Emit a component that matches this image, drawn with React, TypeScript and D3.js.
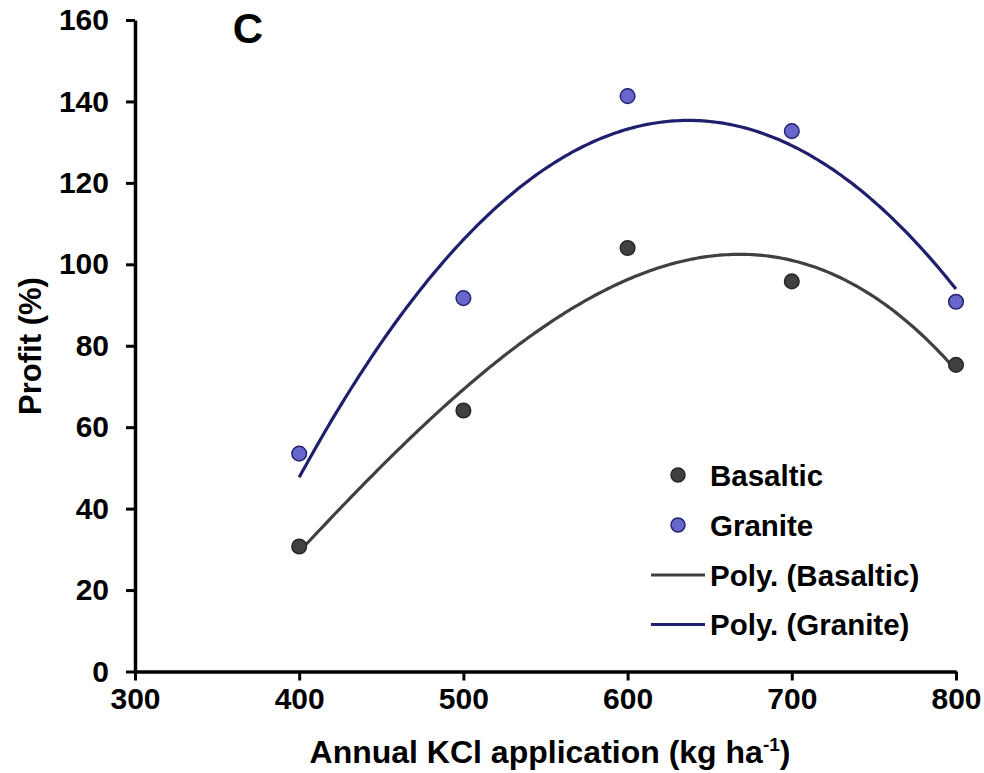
import React, { useEffect, useRef } from 'react';
import * as d3 from 'd3';

// ---------- data ----------
const kcl = [400, 500, 600, 700, 800];
const basaltic = [30.7, 64.1, 104.0, 95.8, 75.3];
const granite = [53.5, 91.7, 141.3, 132.7, 90.8];
// polynomial order of each Excel-style trendline
const basalticOrder = 3;
const graniteOrder = 2;
const xTicks = [300, 400, 500, 600, 700, 800];
const yTicks = [0, 20, 40, 60, 80, 100, 120, 140, 160];
const legendLabels = ['Basaltic', 'Granite', 'Poly. (Basaltic)', 'Poly. (Granite)'];

const W = 984;
const H = 773;
const FONT = 'Arial, "Liberation Sans", Helvetica, sans-serif';

// least squares polynomial fit, x centred and scaled to keep it well conditioned
function polyfit(xs: number[], ys: number[], order: number) {
  const mx = d3.mean(xs) as number;
  const sx = 100;
  const n = order + 1;
  const A: number[][] = Array.from({ length: n }, () => new Array(n + 1).fill(0));
  xs.forEach((x, k) => {
    const u = (x - mx) / sx;
    for (let i = 0; i < n; i++) {
      for (let j = 0; j < n; j++) A[i][j] += Math.pow(u, i + j);
      A[i][n] += Math.pow(u, i) * ys[k];
    }
  });
  for (let c = 0; c < n; c++) {
    let p = c;
    for (let r = c + 1; r < n; r++) if (Math.abs(A[r][c]) > Math.abs(A[p][c])) p = r;
    [A[c], A[p]] = [A[p], A[c]];
    for (let r = 0; r < n; r++) {
      if (r === c) continue;
      const f = A[r][c] / A[c][c];
      for (let k = c; k <= n; k++) A[r][k] -= f * A[c][k];
    }
  }
  const coef = A.map((row, i) => row[n] / row[i]);
  return (x: number) => {
    const u = (x - mx) / sx;
    return coef.reduce((s, c, i) => s + c * Math.pow(u, i), 0);
  };
}

export default function App() {
  const ref = useRef<SVGSVGElement>(null);

  useEffect(() => {
    const svg = d3.select(ref.current);
    svg.selectAll('*').remove();

    const x = d3.scaleLinear().domain([300, 800]).range([135, 956]);
    const y = d3.scaleLinear().domain([0, 160]).range([671.5, 20]);

    const series = [
      { name: 'Basaltic', values: basaltic, order: basalticOrder, fill: '#404040', stroke: '#262626', line: '#404040' },
      { name: 'Granite', values: granite, order: graniteOrder, fill: '#6666cc', stroke: '#23236e', line: '#1f1f6e' },
    ];

    // ----- trendlines -----
    const line = d3.line<number[]>().x(d => x(d[0])).y(d => y(d[1]));
    series.forEach(s => {
      const f = polyfit(kcl, s.values, s.order);
      const pts = d3.range(400, 800.001, 2).map(v => [v, f(v)]);
      svg.append('path')
        .attr('d', line(pts))
        .attr('fill', 'none')
        .attr('stroke', s.line)
        .attr('stroke-width', 3.2);
    });

    // ----- points -----
    series.forEach(s => {
      svg.append('g')
        .selectAll('circle')
        .data(s.values)
        .join('circle')
        .attr('cx', (d, i) => x(kcl[i]))
        .attr('cy', d => y(d))
        .attr('r', 7.3)
        .attr('fill', s.fill)
        .attr('stroke', s.stroke)
        .attr('stroke-width', 1.5);
    });

    // ----- axes -----
    const xAxis = d3.axisBottom(x).tickValues(xTicks).tickSize(9).tickSizeOuter(0).tickPadding(7);
    const gx = svg.append('g').attr('transform', `translate(0,${y(0)})`).call(xAxis);
    const yAxis = d3.axisLeft(y).tickValues(yTicks).tickSize(9).tickSizeOuter(0).tickPadding(17);
    const gy = svg.append('g').attr('transform', `translate(${x(300)},0)`).call(yAxis);

    [gx, gy].forEach(g => {
      g.select('.domain').attr('stroke', '#000').attr('stroke-width', 3.5);
      g.selectAll('.tick line').attr('stroke', '#000').attr('stroke-width', 3);
      g.selectAll('.tick text')
        .attr('fill', '#000')
        .style('font-family', FONT)
        .style('font-size', '30px')
        .style('font-weight', 'bold');
    });
    gx.selectAll('.tick text').attr('dy', '0.71em');

    // ----- titles -----
    const xt = svg.append('text')
      .attr('x', 550)
      .attr('y', 763)
      .attr('text-anchor', 'middle')
      .style('font-family', FONT)
      .style('font-size', '32px')
      .style('font-weight', 'bold')
      .text('Annual KCl application (kg ha');
    xt.append('tspan').attr('dy', -12).style('font-size', '19px').text('-1');
    xt.append('tspan').attr('dy', 12).text(')');

    svg.append('text')
      .attr('transform', `translate(41,346) rotate(-90)`)
      .attr('text-anchor', 'middle')
      .style('font-family', FONT)
      .style('font-size', '31px')
      .style('font-weight', 'bold')
      .text('Profit (%)');

    svg.append('text')
      .attr('x', 248)
      .attr('y', 43)
      .attr('text-anchor', 'middle')
      .style('font-family', FONT)
      .style('font-size', '42px')
      .style('font-weight', 'bold')
      .text('C');

    // ----- legend -----
    const lg = svg.append('g');
    const rowY = [475, 525, 575, 624.5];
    legendLabels.forEach((lab, i) => {
      const s = series[i % 2];
      if (i < 2) {
        lg.append('circle')
          .attr('cx', 678).attr('cy', rowY[i]).attr('r', 7)
          .attr('fill', s.fill).attr('stroke', s.stroke).attr('stroke-width', 1.5);
      } else {
        lg.append('line')
          .attr('x1', 651).attr('x2', 705).attr('y1', rowY[i]).attr('y2', rowY[i])
          .attr('stroke', s.line).attr('stroke-width', 3.2);
      }
      lg.append('text')
        .attr('x', 710)
        .attr('y', rowY[i] + 10.5)
        .style('font-family', FONT)
        .style('font-size', '29.5px')
        .style('font-weight', 'bold')
        .text(lab);
    });
  }, []);

  return (
    <svg
      ref={ref}
      width={W}
      height={H}
      style={{ position: 'absolute', left: 0, top: 0, background: '#fff' }}
    />
  );
}
